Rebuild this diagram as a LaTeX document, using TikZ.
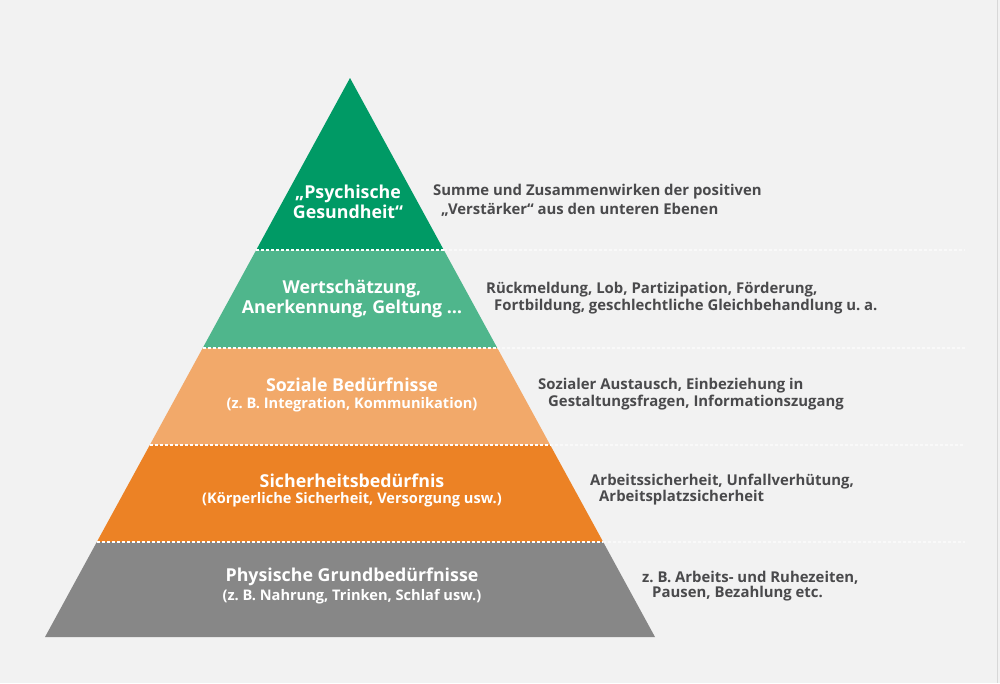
\documentclass[tikz,border=0pt]{standalone}
\usepackage{fontspec}
\setmainfont{Open Sans}
\begin{document}
\frenchspacing
\begin{tikzpicture}[x=1pt,y=-1pt,
  ttl/.style={text=white,font=\bfseries\fontsize{17.8}{19.5}\selectfont,align=center,inner sep=0pt},
  sub/.style={text=white,font=\bfseries\fontsize{14.6}{16}\selectfont,inner sep=0pt},
  desc/.style={text=txtgray,font=\bfseries\fontsize{14.9}{16}\selectfont,anchor=west,inner sep=0pt},
  sepin/.style={draw=white,line width=1.3pt,dash pattern=on 3pt off 2pt},
  sepout/.style={draw=white,opacity=0.55,line width=1.3pt,dash pattern=on 3pt off 2pt}]
\definecolor{bg}{HTML}{F2F2F2}
\definecolor{cA}{HTML}{009A65}
\definecolor{cB}{HTML}{4FB68C}
\definecolor{cC}{HTML}{F2A96A}
\definecolor{cD}{HTML}{EC8225}
\definecolor{cE}{HTML}{878787}
\definecolor{txtgray}{HTML}{4A4A4C}
\definecolor{frame}{HTML}{D8D8D8}
\fill[bg] (0,0) rectangle (1000,683);
\useasboundingbox (0,0) rectangle (1000,683);
\draw[frame,line width=1pt] (997,0) -- (997,683);
% bands
\fill[cA] (350,78) -- (443.8,250) -- (256.2,250) -- cycle;
\fill[cB] (256.2,250) -- (443.8,250) -- (497.3,348) -- (202.7,348) -- cycle;
\fill[cC] (202.7,348) -- (497.3,348) -- (550.2,445) -- (149.8,445) -- cycle;
\fill[cD] (149.8,445) -- (550.2,445) -- (603.2,542) -- (96.8,542) -- cycle;
\fill[cE] (96.8,542) -- (603.2,542) -- (655,637) -- (45,637) -- cycle;
% separators
\coordinate (s1a) at (256.2,250); \coordinate (s1b) at (443.8,250); \coordinate (s1c) at (965,250);
\coordinate (s2a) at (202.7,348); \coordinate (s2b) at (497.3,348); \coordinate (s2c) at (965,348);
\coordinate (s3a) at (149.8,445); \coordinate (s3b) at (550.2,445); \coordinate (s3c) at (965,445);
\coordinate (s4a) at (96.8,542); \coordinate (s4b) at (603.2,542); \coordinate (s4c) at (965,542);
\foreach \i in {1,2,3,4} {
  \draw[sepin] (s\i a) -- (s\i b);
  \draw[sepout] (s\i b) -- (s\i c);
}
% pyramid labels
\node[ttl] (tA) at (348,202) {„Psychische\\Gesundheit“};
\node[ttl] (tB) at (352,299) {Wertschätzung,\\Anerkennung, Geltung …};
\node[ttl] (tC) at (352,385) {Soziale Bedürfnisse};
\node[sub] (uC) at (352,405) {(z. B. Integration, Kommunikation)};
\node[ttl] (tD) at (352,481) {Sicherheitsbedürfnis};
\node[sub] (uD) at (352,500) {(Körperliche Sicherheit, Versorgung usw.)};
\node[ttl] (tE) at (352,577) {Physische Grundbedürfnisse};
\node[sub] (uE) at (352,597) {(z. B. Nahrung, Trinken, Schlaf usw.)};
% descriptions
\node[desc] (dA1) at (433,192) {Summe und Zusammenwirken der positiven};
\node[desc] (dA2) at (441,210) {„Verstärker“ aus den unteren Ebenen};
\node[desc] (dB1) at (486,290) {Rückmeldung, Lob, Partizipation, Förderung,};
\node[desc] (dB2) at (494,307) {Fortbildung, geschlechtliche Gleichbehandlung u. a.};
\node[desc] (dC1) at (538,386) {Sozialer Austausch, Einbeziehung in};
\node[desc] (dC2) at (548,403) {Gestaltungsfragen, Informationszugang};
\node[desc] (dD1) at (590,482) {Arbeitssicherheit, Unfallverhütung,};
\node[desc] (dD2) at (599,498) {Arbeitsplatzsicherheit};
\node[desc] (dE1) at (642,578) {z. B. Arbeits- und Ruhezeiten,};
\node[desc] (dE2) at (652,594) {Pausen, Bezahlung etc.};
\end{tikzpicture}
\end{document}
